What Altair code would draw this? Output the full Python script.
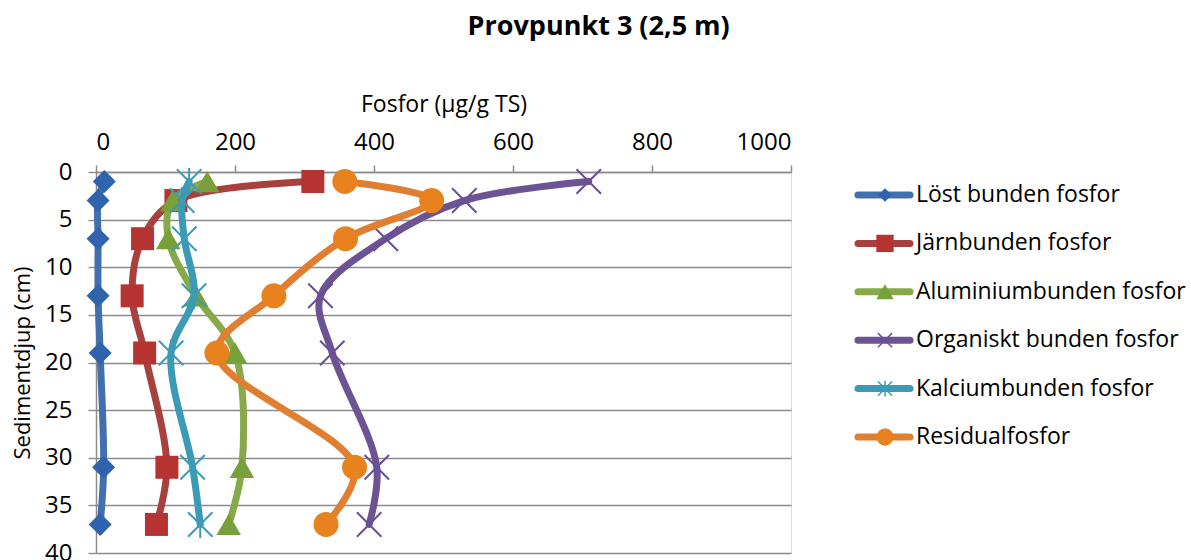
import altair as alt
import pandas as pd

# Sampling depths (cm) and phosphorus fractions (µg/g TS)
depth = [1, 3, 7, 13, 19, 31, 37]
series_names = [
    "Löst bunden fosfor",
    "Järnbunden fosfor",
    "Aluminiumbunden fosfor",
    "Organiskt bunden fosfor",
    "Kalciumbunden fosfor",
    "Residualfosfor",
]
lost_bunden = [12, 3, 3, 3, 6, 11, 6]
jarnbunden = [312, 115, 67, 52, 70, 102, 87]
aluminiumbunden = [160, 110, 104, 144, 200, 210, 191]
organiskt_bunden = [709, 530, 417, 323, 340, 404, 393]
kalciumbunden = [134, 124, 127, 141, 108, 139, 150]
residual = [358, 483, 359, 256, 174, 372, 331]

x_ticks = [0, 200, 400, 600, 800, 1000]
y_ticks = [0, 5, 10, 15, 20, 25, 30, 35, 40]

values = [lost_bunden, jarnbunden, aluminiumbunden, organiskt_bunden, kalciumbunden, residual]
df = pd.DataFrame(
    [
        {"series": name, "depth": d, "value": v}
        for name, vals in zip(series_names, values)
        for d, v in zip(depth, vals)
    ]
)

FONT = "Open Sans"
GRID = "#8c8c8c"

# Per-series styling: line colour, marker colour, marker shape, filled?
X_PATH = "M-1,-1L1,1M-1,1L1,-1"
STAR_PATH = "M-1,-1L1,1M-1,1L1,-1M0,-1.1L0,1.1"
styles = {
    "Löst bunden fosfor": dict(line="#4270ae", mark="#2f63ad", shape="diamond", filled=True, size=529, lsize=180),
    "Järnbunden fosfor": dict(line="#a8403d", mark="#b53431", shape="square", filled=True, size=529, lsize=300),
    "Aluminiumbunden fosfor": dict(line="#88a94a", mark="#77a03a", shape="triangle-up", filled=True, size=600, lsize=300),
    "Organiskt bunden fosfor": dict(line="#6c5393", mark="#6a4f96", shape=X_PATH, filled=False, size=600, lsize=200),
    "Kalciumbunden fosfor": dict(line="#3b9ab5", mark="#3d9bb5", shape=STAR_PATH, filled=False, size=600, lsize=200),
    "Residualfosfor": dict(line="#e07e32", mark="#e8821f", shape="circle", filled=True, size=625, lsize=300),
}

x_enc = alt.X(
    "value:Q",
    scale=alt.Scale(domain=[0, 1000], nice=False),
    axis=alt.Axis(
        orient="top",
        values=x_ticks,
        format="d",
        title="Fosfor (µg/g TS)",
        grid=False,
        domainColor=GRID,
        domainWidth=1.5,
        tickColor=GRID,
        tickWidth=1.5,
        tickSize=7,
        labelFontSize=24,
        labelPadding=11,
        labelFont=FONT,
        labelColor="#000000",
        titleFont=FONT,
        titleFontSize=23,
        titleFontWeight="normal",
        titleColor="#000000",
        titlePadding=14,
    ),
)
y_enc = alt.Y(
    "depth:Q",
    scale=alt.Scale(domain=[0, 40], reverse=True, nice=False),
    axis=alt.Axis(
        values=y_ticks,
        title="Sedimentdjup (cm)",
        grid=True,
        gridColor=GRID,
        gridWidth=1.4,
        domainColor=GRID,
        domainWidth=1.5,
        tickColor=GRID,
        tickWidth=1.4,
        tickSize=8,
        labelFontSize=24,
        labelPadding=16,
        labelFont=FONT,
        labelColor="#000000",
        titleFont=FONT,
        titleFontSize=22,
        titleFontWeight="normal",
        titleColor="#000000",
        titlePadding=10,
    ),
)

base = alt.Chart(df)
series_layers = []
for name in series_names:
    st = styles[name]
    sub = base.transform_filter(alt.datum.series == name)
    line = sub.mark_line(
        color=st["line"], strokeWidth=7, interpolate="catmull-rom", strokeCap="round"
    ).encode(x=x_enc, y=y_enc, order="depth:Q")
    if st["filled"]:
        pts = sub.mark_point(
            shape=st["shape"], filled=True, size=st["size"], color=st["mark"], opacity=1
        )
    else:
        pts = sub.mark_point(
            shape=st["shape"], filled=False, size=st["size"], color=st["mark"],
            strokeWidth=2, opacity=1
        )
    series_layers += [line, pts.encode(x=x_enc, y=y_enc)]

main = alt.layer(*series_layers)

# Legend drawn beside the plot: line sample, marker and label per series
legend_df = pd.DataFrame({"series": series_names})
ly = alt.Y(
    "series:N",
    scale=alt.Scale(type="point", domain=series_names, range=[23, 265], padding=0),
    axis=None,
)
lbase = alt.Chart(legend_df)
legend_layers = []
for name in series_names:
    st = styles[name]
    sub = lbase.transform_filter(alt.datum.series == name)
    legend_layers.append(
        sub.mark_rule(color=st["line"], strokeWidth=7, strokeCap="round").encode(
            x=alt.value(762), x2=alt.value(814), y=ly
        )
    )
    if st["filled"]:
        m = sub.mark_point(shape=st["shape"], filled=True, size=st["lsize"], color=st["mark"], opacity=1)
    else:
        m = sub.mark_point(shape=st["shape"], filled=False, size=st["lsize"], color=st["mark"],
                           strokeWidth=1.5, opacity=1)
    legend_layers.append(m.encode(x=alt.value(789), y=ly))
legend_layers.append(
    lbase.mark_text(align="left", baseline="middle", font=FONT, fontSize=23, color="#000000").encode(
        x=alt.value(820), y=ly, text="series:N"
    )
)
legend = alt.layer(*legend_layers)

chart = (
    alt.layer(main, legend)
    .resolve_scale(y="independent")
    .properties(
        width=695,
        height=381,
        autosize=alt.AutoSizeParams(type="none"),
        padding={"left": 96, "top": 172, "right": 400, "bottom": 7},
        title=alt.Title(
            "Provpunkt 3 (2,5 m)",
            font=FONT,
            fontSize=27,
            fontWeight="bold",
            color="#000000",
            anchor="middle",
            frame="bounds",
            offset=52,
        ),
    )
    .configure_view(stroke=None)
    .configure(background="#ffffff")
)

chart.save("out.html", embed_options={"renderer": "svg", "actions": False})
